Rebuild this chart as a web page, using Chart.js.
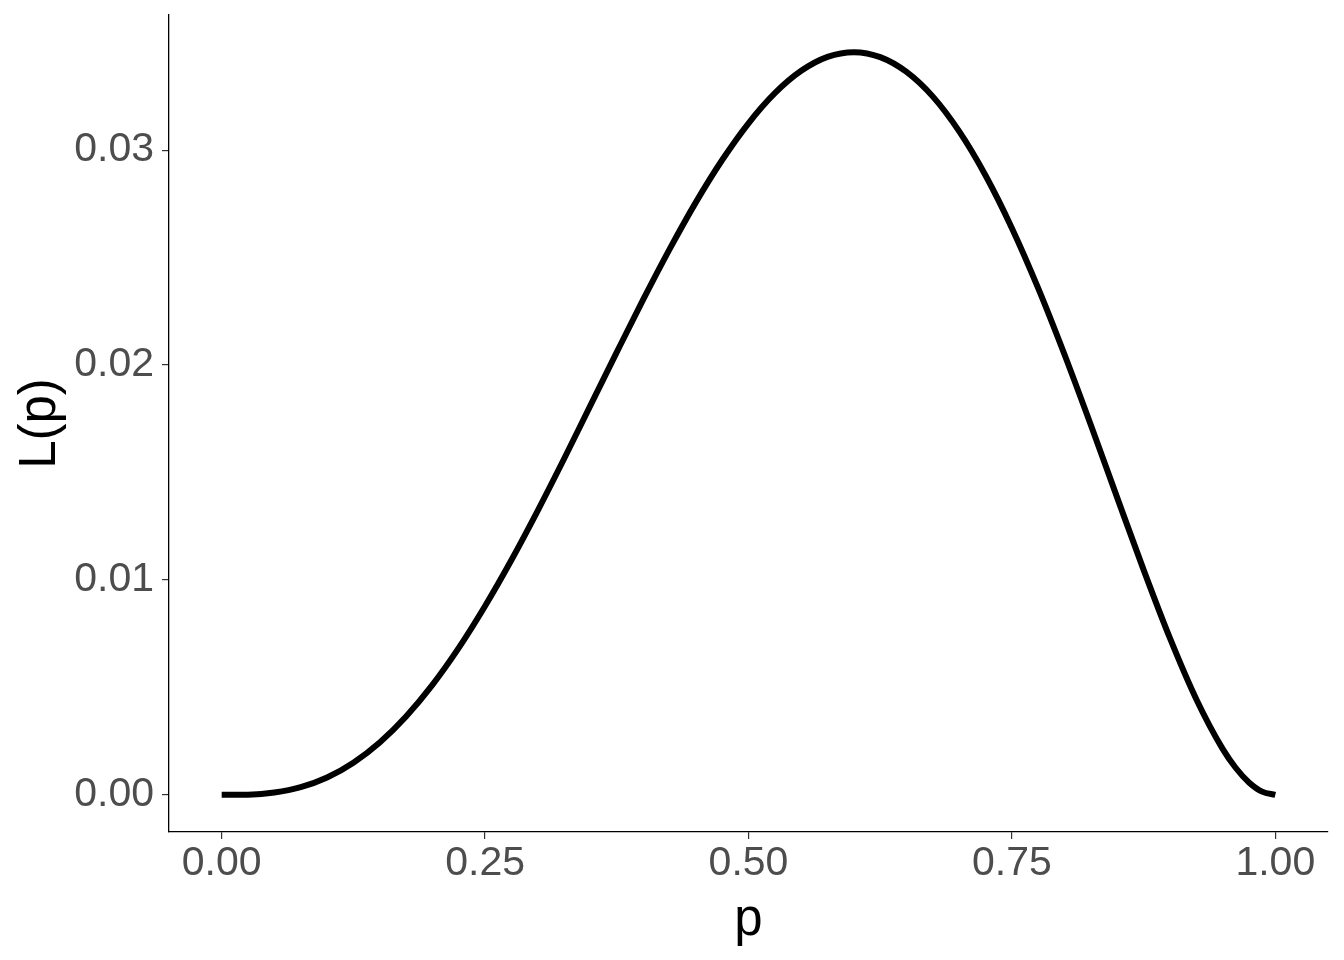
<!DOCTYPE html>
<html><head><meta charset="utf-8">
<script src="https://cdn.jsdelivr.net/npm/chart.js@4/dist/chart.umd.min.js"></script>
<style>html,body{margin:0;padding:0;background:#fff}canvas{display:block}</style>
</head><body>
<canvas id="c" width="1344" height="960"></canvas>
<script>
const pValues = [0, 0.025, 0.05, 0.075, 0.1, 0.125, 0.15, 0.175, 0.2, 0.225, 0.25, 0.275, 0.3, 0.325, 0.35, 0.375, 0.4, 0.425, 0.45, 0.475, 0.5, 0.525, 0.55, 0.575, 0.6, 0.625, 0.65, 0.675, 0.7, 0.725, 0.75, 0.775, 0.8, 0.825, 0.85, 0.875, 0.9, 0.925, 0.95, 0.9625, 0.975, 0.9875, 1];
const likelihood = [0, 0.00001, 0.00011, 0.00036, 0.00081, 0.00150, 0.00244, 0.00365, 0.00512, 0.00684, 0.00879, 0.01093, 0.01323, 0.01564, 0.01812, 0.02060, 0.02304, 0.02538, 0.02757, 0.02954, 0.03125, 0.03265, 0.03369, 0.03434, 0.03456, 0.03433, 0.03364, 0.03249, 0.03087, 0.02882, 0.02637, 0.02357, 0.02048, 0.01720, 0.01382, 0.01047, 0.00729, 0.00445, 0.00214, 0.00125, 0.00058, 0.00015, 0];
const xTicks = [0, 0.25, 0.5, 0.75, 1];
const yTicks = [0, 0.01, 0.02, 0.03];
const xTitle = 'p';
const yTitle = 'L(p)';
const FAM = '"Liberation Sans", Arial, sans-serif';

new Chart(document.getElementById('c'), {
  type: 'line',
  data: { datasets: [{
    data: pValues.map((p, i) => ({ x: p, y: likelihood[i] })),
    borderColor: '#000', borderWidth: 6, pointRadius: 0,
    cubicInterpolationMode: 'monotone', fill: false
  }]},
  options: {
    responsive: false, animation: false, devicePixelRatio: 1,
    layout: { padding: { top: 15, right: 16, left: 0, bottom: 0 } },
    plugins: { legend: { display: false }, tooltip: { enabled: false } },
    scales: {
      x: {
        type: 'linear', min: -0.05, max: 1.05,
        afterBuildTicks(s) { s.ticks = xTicks.map(v => ({ value: v })); },
        afterFit(s) { s.height = 128; s.paddingLeft = 0; s.paddingRight = 0; },
        ticks: { callback: v => Number(v).toFixed(2), font: { family: FAM, size: 41 }, color: '#4D4D4D', padding: 0, maxRotation: 0, autoSkip: false },
        grid: { display: true, drawOnChartArea: false, drawTicks: true, tickLength: 7, color: '#333333', lineWidth: 1.2 },
        border: { display: true, color: '#000', width: 1.3 },
        title: { display: true, text: xTitle, font: { family: FAM, size: 51 }, color: '#000', padding: { top: 8, bottom: 8 } }
      },
      y: {
        type: 'linear', min: -0.001728, max: 0.036288,
        afterBuildTicks(s) { s.ticks = yTicks.map(v => ({ value: v })); },
        afterFit(s) { s.width = 169; s.paddingTop = 0; s.paddingBottom = 0; },
        ticks: { callback: v => Number(v).toFixed(2), font: { family: FAM, size: 41 }, color: '#4D4D4D', padding: 8, autoSkip: false },
        grid: { display: true, drawOnChartArea: false, drawTicks: true, tickLength: 7, color: '#333333', lineWidth: 1.2 },
        border: { display: true, color: '#000', width: 1.3 },
        title: { display: true, text: yTitle, font: { family: FAM, size: 51 }, color: '#000', padding: { top: 10, bottom: 10 } }
      }
    }
  }
});
</script>
</body></html>
